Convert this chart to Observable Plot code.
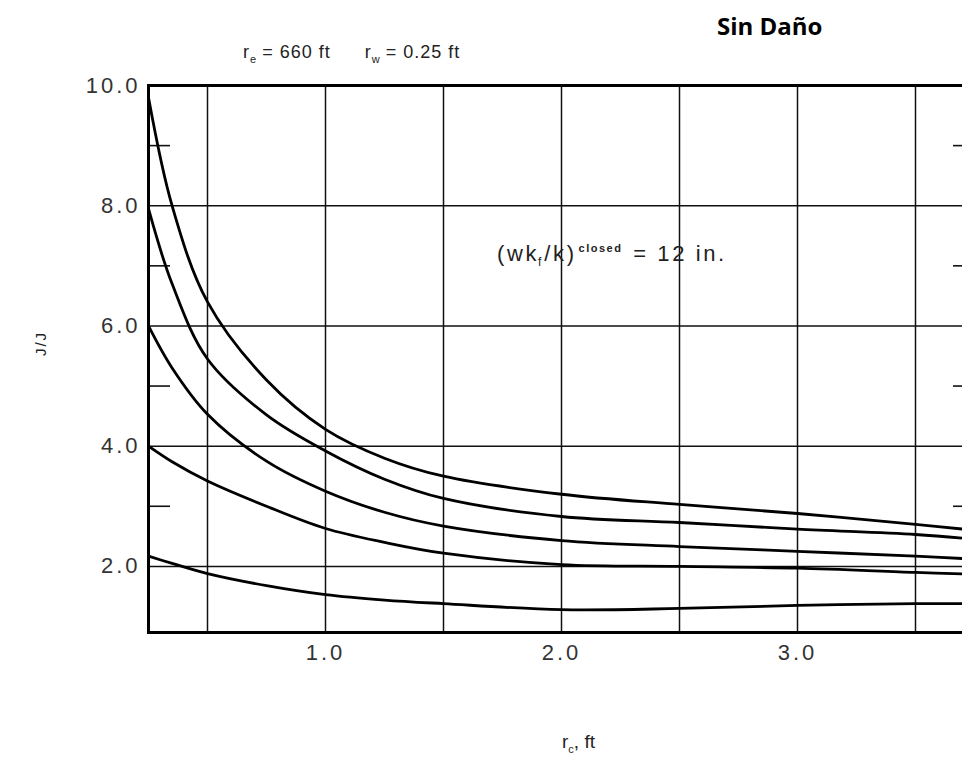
<!DOCTYPE html>
<html>
<head>
<meta charset="utf-8">
<script src="https://cdn.jsdelivr.net/npm/d3@7"></script>
<script src="https://cdn.jsdelivr.net/npm/@observablehq/plot@0.6"></script>
<style>
  html, body { margin: 0; padding: 0; background: #fff; overflow: hidden; }
  #wrap { position: relative; width: 962px; height: 761px; overflow: hidden; }
  .lbl { position: absolute; font-family: "Liberation Sans", Arial, sans-serif; color: #222; white-space: nowrap; }
  #title { left: 717px; top: 9px; font-family: "Open Sans", sans-serif; font-weight: 700; font-size: 24px; color: #000; }
  #params { left: 243px; top: 42px; font-size: 18px; letter-spacing: 1px; }
  #params sub, #xlab sub { font-size: 11px; letter-spacing: 0; }
  #params .gap { display: inline-block; width: 34px; }
  #ann { left: 497px; top: 241px; font-size: 22px; letter-spacing: 2.6px; }
  #ann .f { font-size: 12px; letter-spacing: 1px; margin-left: -1px; margin-right: 2px; }
  #ann sup { font-size: 11px; font-weight: 700; vertical-align: 9px; letter-spacing: 1.5px; margin-left: 2px; margin-right: 2px; }
  #ylab { left: 28px; top: 335px; font-size: 15px; letter-spacing: 2px; transform: rotate(-90deg); transform-origin: center; }
  #xlab { left: 562px; top: 731px; font-size: 19px; }
</style>
</head>
<body>
<div id="wrap">
  <div id="chart"></div>
  <div class="lbl" id="title">Sin Daño</div>
  <div class="lbl" id="params">r<sub>e</sub> = 660 ft<span class="gap"></span>r<sub>w</sub> = 0.25 ft</div>
  <div class="lbl" id="ann">(wk<sub class="f">f</sub>/k)<sup>closed</sup> = 12 in.</div>
  <div class="lbl" id="ylab">J/J</div>
  <div class="lbl" id="xlab">r<sub>c</sub>, ft</div>
</div>
<script>
// r_c values (ft)
const rc = [0.25, 0.35, 0.5, 0.75, 1.0, 1.25, 1.5, 2.0, 2.5, 3.0, 3.5, 3.75];
// J/J curves, top to bottom
const curveA = [9.8, 8.0, 6.4, 5.1, 4.28, 3.8, 3.5, 3.2, 3.03, 2.88, 2.7, 2.6];
const curveB = [7.95, 6.7, 5.45, 4.52, 3.92, 3.45, 3.13, 2.83, 2.73, 2.62, 2.53, 2.45];
const curveC = [6.0, 5.3, 4.53, 3.75, 3.25, 2.9, 2.67, 2.43, 2.33, 2.25, 2.17, 2.12];
const curveD = [4.0, 3.74, 3.42, 3.0, 2.63, 2.4, 2.22, 2.03, 2.0, 1.97, 1.9, 1.87];
const curveE = [2.17, 2.05, 1.88, 1.68, 1.53, 1.44, 1.38, 1.28, 1.3, 1.35, 1.38, 1.38];
// axis ticks
const xTickLabels = [1.0, 2.0, 3.0];
const xGrid = [0.5, 1.0, 1.5, 2.0, 2.5, 3.0, 3.5];
const yTicks = [2, 4, 6, 8, 10];
const yMinor = [3, 5, 7, 9];

const series = [curveA, curveB, curveC, curveD, curveE];
const data = series.flatMap((vals, i) => vals.map((v, j) => ({curve: i, x: rc[j], y: v})));

const chart = Plot.plot({
  width: 990,
  height: 761,
  marginLeft: 148,
  marginRight: 16,
  marginTop: 85,
  marginBottom: 129,
  x: {domain: [0.25, 3.75]},
  y: {domain: [0.9, 10]},
  style: {fontFamily: "Liberation Sans, Arial, sans-serif", background: "#fff", maxWidth: "none", letterSpacing: "3px"},
  marks: [
    Plot.gridX(xGrid, {stroke: "#111", strokeOpacity: 1, strokeWidth: 1.5}),
    Plot.gridY(yTicks, {stroke: "#111", strokeOpacity: 1, strokeWidth: 1.5}),
    Plot.axisY(yMinor, {anchor: "left", tickSize: -22, tickFormat: () => "", stroke: "#111", strokeWidth: 1.6, label: null}),
    Plot.axisY(yMinor, {anchor: "right", tickSize: -22, tickFormat: () => "", stroke: "#111", strokeWidth: 1.6, label: null}),
    Plot.axisY(yTicks, {anchor: "left", tickSize: 0, tickPadding: 8, tickFormat: d3.format(".1f"), fontSize: 22, fill: "#333", label: null}),
    Plot.axisX(xTickLabels, {anchor: "bottom", tickSize: 0, tickPadding: 12, tickFormat: d3.format(".1f"), fontSize: 22, fill: "#333", label: null}),
    Plot.line(data, {x: "x", y: "y", z: "curve", stroke: "#000", strokeWidth: 2.8, curve: "catmull-rom"}),
    Plot.frame({stroke: "#000", strokeWidth: 3})
  ]
});
chart.style.maxWidth = "none";
document.getElementById("chart").appendChild(chart);
</script>
</body>
</html>
